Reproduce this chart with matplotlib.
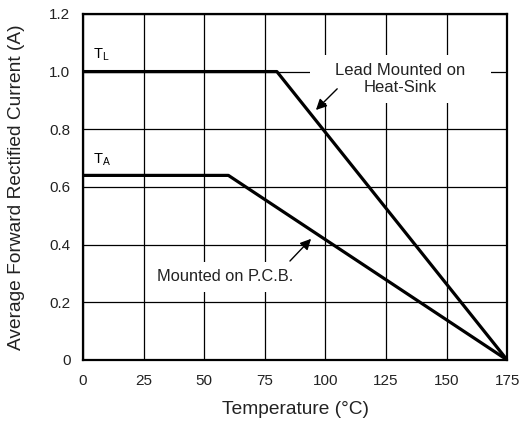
import matplotlib.pyplot as plt
from matplotlib.patches import Rectangle

plt.rcParams['font.family'] = ['Liberation Sans', 'DejaVu Sans']

# derating curves (temperature in C, current in A)
lead_temp = [0, 80, 175]
lead_curr = [1.0, 1.0, 0.0]
pcb_temp = [0, 60, 175]
pcb_curr = [0.64, 0.64, 0.0]

x_ticks = [0, 25, 50, 75, 100, 125, 150, 175]
y_ticks = [0, 0.2, 0.4, 0.6, 0.8, 1.0, 1.2]
y_labels = ['0', '0.2', '0.4', '0.6', '0.8', '1.0', '1.2']

fig = plt.figure(figsize=(5.25, 4.21), dpi=100)
ax = fig.add_axes([0.158, 0.145, 0.808, 0.822])

ax.plot(lead_temp, lead_curr, color='black', lw=2.3, solid_capstyle='butt', zorder=3)
ax.plot(pcb_temp, pcb_curr, color='black', lw=2.3, solid_capstyle='butt', zorder=3)

ax.set_xlim(0, 175)
ax.set_ylim(0, 1.2)
ax.set_xticks(x_ticks)
ax.set_yticks(y_ticks)
ax.set_yticklabels(y_labels)
ax.tick_params(length=0, labelsize=11, colors='#222222')
ax.tick_params(axis='x', pad=10)
ax.tick_params(axis='y', pad=9)
ax.grid(True, color='black', lw=0.9)
ax.set_axisbelow(True)
for s in ax.spines.values():
    s.set_linewidth(1.6)
    s.set_zorder(4)

ax.set_xlabel('Temperature (°C)', fontsize=13.75, color='#222222')
ax.set_ylabel('Average Forward Rectified Current (A)', fontsize=13.75, color='#222222')
ax.xaxis.label.set_va('center')
ax.yaxis.label.set_va('center')
ax.xaxis.set_label_coords(0.5, -0.142)
ax.yaxis.set_label_coords(-0.156, 0.5)

ax.text(4, 1.047, r'T$_\mathregular{L}$', fontsize=10.5, va='baseline', ha='left')
ax.text(4, 0.683, r'T$_\mathregular{A}$', fontsize=10.5, va='baseline', ha='left')

# white block behind the upper note, cutting the grid
ax.add_patch(Rectangle((93.7, 0.891), 74.7, 0.167, facecolor='white', edgecolor='none', zorder=1))
ax.text(130.8, 0.975, 'Lead Mounted on\nHeat-Sink', fontsize=12, ha='center', va='center',
        zorder=4, linespacing=1.15, color='#222222')
ax.annotate('', xy=(95.3, 0.86), xytext=(105.7, 0.947),
            arrowprops=dict(arrowstyle='-|>', color='black', lw=1.0, mutation_scale=16), zorder=5)

ax.text(58.6, 0.288, 'Mounted on P.C.B.', fontsize=11.8, ha='center', va='center',
        color='#222222', zorder=4,
        bbox=dict(boxstyle='square,pad=0.45', facecolor='white', edgecolor='none'))
ax.annotate('', xy=(94.9, 0.427), xytext=(84.6, 0.336),
            arrowprops=dict(arrowstyle='-|>', color='black', lw=1.0, mutation_scale=16), zorder=5)

fig.savefig('out.png', dpi=100)
